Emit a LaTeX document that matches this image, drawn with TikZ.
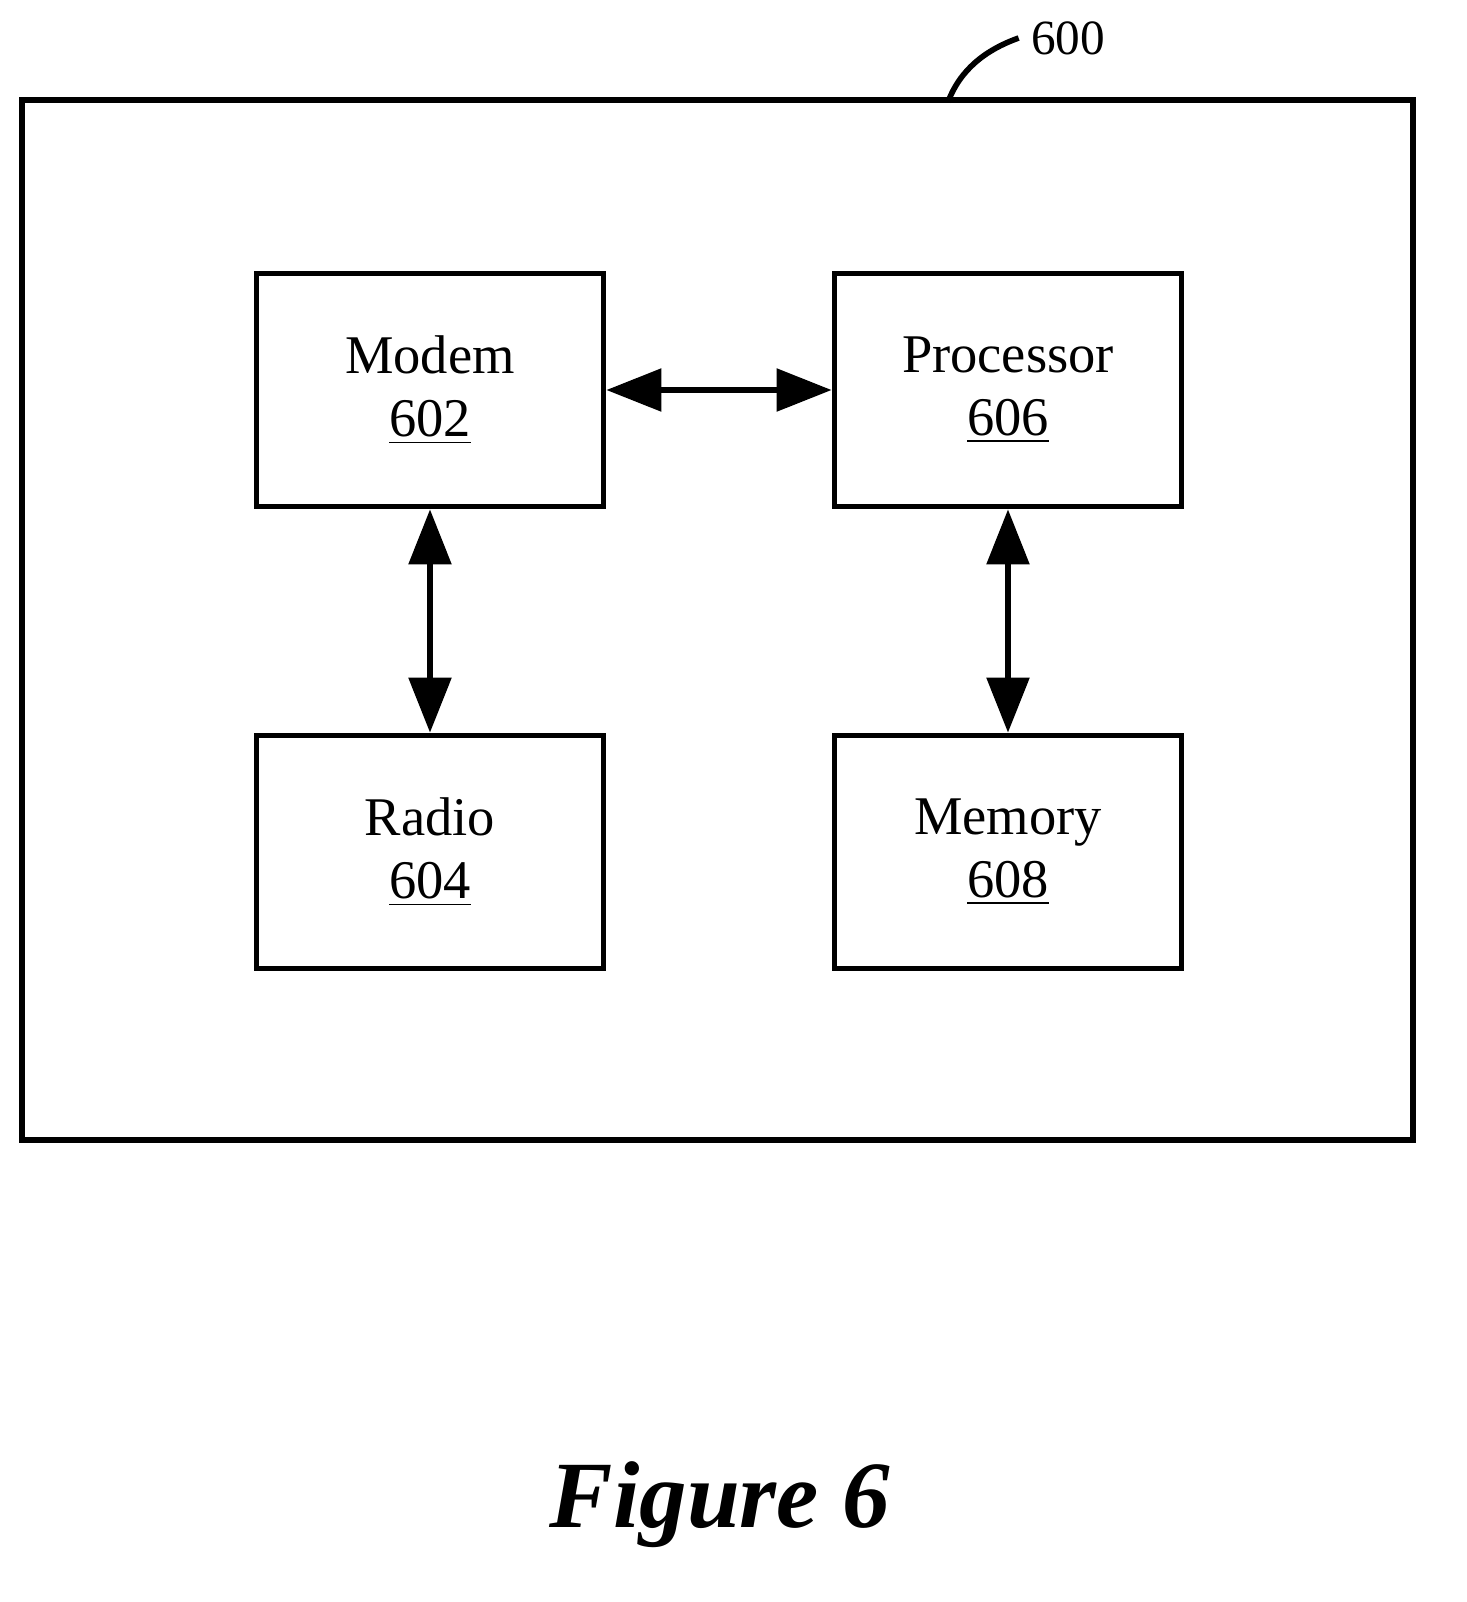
\documentclass[tikz,border=0pt]{standalone}
\usepackage{fontspec}
\setmainfont{Liberation Serif}
\usetikzlibrary{arrows.meta}

\tikzset{
  blk/.style={draw, line width=1.6pt, minimum width=3.47cm, minimum height=2.33cm, align=center, font=\fontsize{15.5}{18}\selectfont},
  link/.style={line width=1.6pt, {Triangle[length=0.55cm,width=0.42cm]}-{Triangle[length=0.55cm,width=0.42cm]}}
}

\begin{document}
\begin{tikzpicture}[x=0.01cm,y=-0.01cm]
\useasboundingbox (0,0) rectangle (1467,1602);

% Outer device
\draw[line width=1.6pt] (22,100) rectangle (1413,1140);
\node[font=\fontsize{14}{17}\selectfont] (lbl) at (1068,38) {600};
\coordinate (tip) at (948,102);
\draw[line width=1.6pt] (tip) .. controls (960,70) and (985,50) .. (lbl.west);

% Blocks
\node[blk] (modem) at (430,390) {Modem\\\underline{602}};
\node[blk] (proc) at (1008,390) {Processor\\\underline{606}};
\node[blk] (radio) at (430,852) {Radio\\\underline{604}};
\node[blk] (mem) at (1008,852) {Memory\\\underline{608}};

% Links
\draw[link] (modem) -- (proc);
\draw[link] (modem) -- (radio);
\draw[link] (proc) -- (mem);

% Caption
\node[font=\fontsize{27}{32}\selectfont\bfseries\itshape] (cap) at (720,1505) {Figure 6};
\end{tikzpicture}
\end{document}
